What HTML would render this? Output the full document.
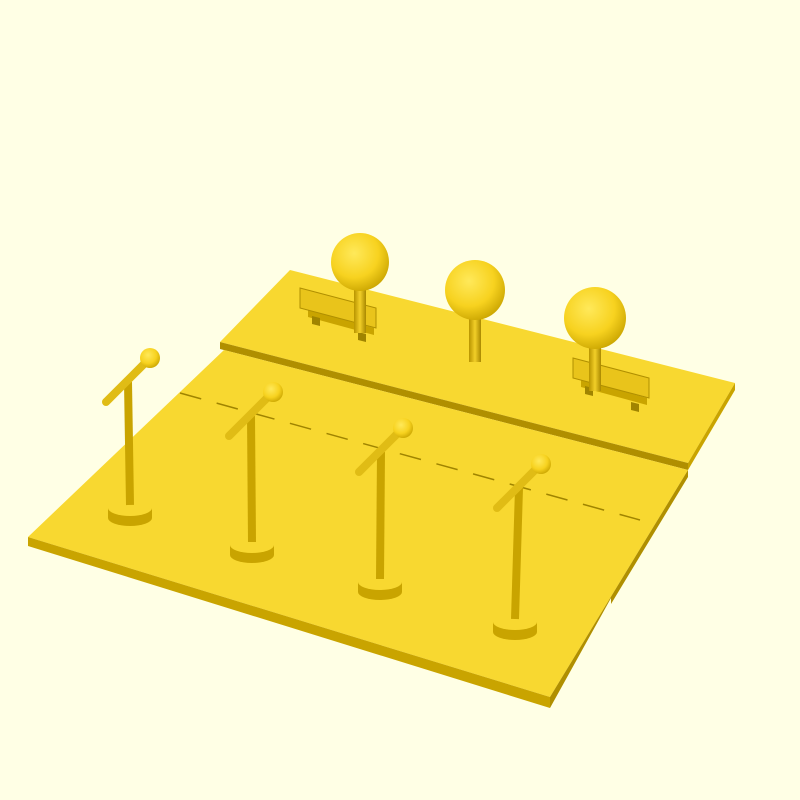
<!DOCTYPE html>
<html><head><meta charset="utf-8">
<style>
html,body{margin:0;padding:0;background:#ffffe5;}
svg{display:block;}
</style></head>
<body>
<svg id="scene" width="800" height="800" viewBox="0 0 800 800" xmlns="http://www.w3.org/2000/svg">
<defs>
<radialGradient id="ballg" cx="0.4" cy="0.35" r="0.7">
<stop offset="0" stop-color="#ffe95a"/><stop offset="0.6" stop-color="#f7d21f"/><stop offset="1" stop-color="#c9a400"/>
</radialGradient>
<linearGradient id="poleg" x1="0" x2="1"><stop offset="0" stop-color="#b89400"/><stop offset="0.5" stop-color="#f2cf28"/><stop offset="1" stop-color="#a98800"/></linearGradient>
</defs>
<rect width="800" height="800" fill="#ffffe5"/>
<polygon points="290,270 735,383 688,463 220,342" fill="#f8d830"/>
<polygon points="688,463 735,383 735,390 688,470" fill="#c9a400"/>
<polygon points="220,342 688,463 688,470 220,349" fill="#b08f00"/>
<polygon points="224,350 688,470 550,697 28,537" fill="#f8d830"/>
<polygon points="28,537 550,697 550,708 28,546" fill="#c9a400"/>
<polygon points="550,697 688,470 688,477 611,604 611,598 550,708" fill="#b08f00"/>
<line x1="180" y1="393" x2="640" y2="520" stroke="#a08400" stroke-width="1.5" stroke-dasharray="22,16"/>
<g id="objects"></g>
</svg>
<script>
const standBaseX=[130,252,380,515];
const standBaseY=[508,545,582,622];
const standHeadX=[150,273,403,541];
const standHeadY=[358,392,428,464];
const sphereX=[360,475,595];
const sphereY=[262,290,318];
const sphereR=[29,30,31];
const benchX=[300,573];
const benchY=[288,358];
const NS='http://www.w3.org/2000/svg';
const g=document.getElementById('objects');
function mk(t,a){const e=document.createElementNS(NS,t);for(const k in a)e.setAttribute(k,a[k]);g.appendChild(e);return e;}
for(let i=0;i<benchX.length;i++){
  const x=benchX[i],y=benchY[i];
  let e=mk('polygon',{points:`${x+8},${y+22} ${x+74},${y+40} ${x+74},${y+47} ${x+8},${y+29}`,fill:'#c9a400'});
  
  
  e=mk('polygon',{points:`${x+12},${y+28} ${x+20},${y+30} ${x+20},${y+38} ${x+12},${y+36}`,fill:'#a08400'});
  
  
  e=mk('polygon',{points:`${x+58},${y+44} ${x+66},${y+46} ${x+66},${y+54} ${x+58},${y+52}`,fill:'#a08400'});
  
  
  e=mk('polygon',{points:`${x},${y} ${x+76},${y+20} ${x+76},${y+40} ${x},${y+20}`,fill:'#e9c41b',stroke:'#b08f00','stroke-width':1});
  
  
}
for(let i=0;i<sphereX.length;i++){
  const x=sphereX[i],y=sphereY[i],r=sphereR[i];
  let e=mk('rect',{x:x-6,y:y+r-4,width:12,height:46,fill:'url(#poleg)'});
  
  
  e=mk('circle',{cx:x,cy:y,r:r,fill:'url(#ballg)'});
  
  
}
for(let i=0;i<standBaseX.length;i++){
  const bx=standBaseX[i],by=standBaseY[i],hx=standHeadX[i],hy=standHeadY[i];
  let e=mk('path',{d:`M${bx-22},${by} L${bx-22},${by+10} A22,8 0 0 0 ${bx+22},${by+10} L${bx+22},${by} Z`,fill:'#c9a400'});
  
  
  e=mk('ellipse',{cx:bx,cy:by,rx:22,ry:8,fill:'#f8d830'});
  
  
  const tx=hx-22,ty=hy+24;
  e=mk('line',{x1:bx,y1:by-3,x2:tx,y2:ty,stroke:'#c9a400','stroke-width':8});
  
  
  e=mk('line',{x1:hx,y1:hy,x2:hx-44,y2:hy+44,stroke:'#e0bc15','stroke-width':8,'stroke-linecap':'round'});
  
  
  e=mk('circle',{cx:hx,cy:hy,r:10,fill:'url(#ballg)'});
  
  
}
</script>
</body></html>
